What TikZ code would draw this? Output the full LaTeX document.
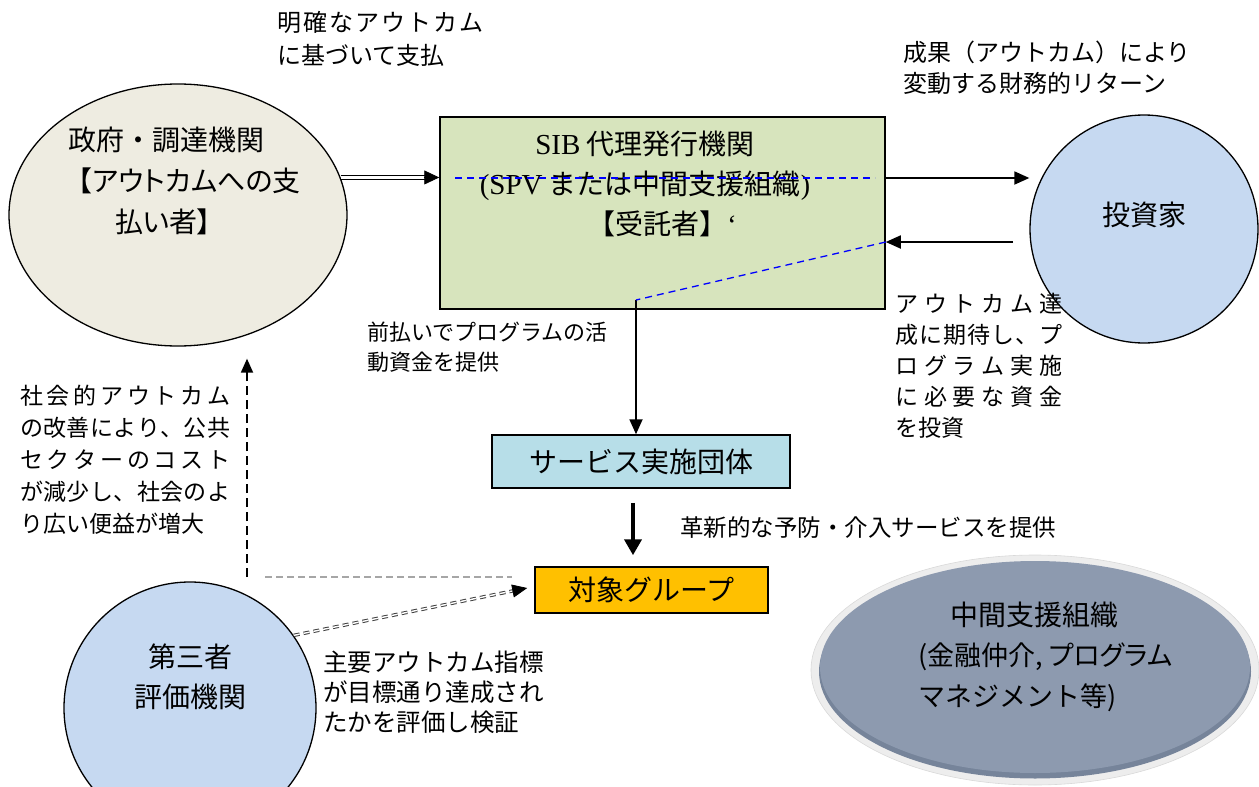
\documentclass[tikz,border=0pt]{standalone}
\usepackage{fontspec}
\setmainfont{Noto Sans CJK JP}
\newfontfamily\lat{Liberation Serif}
\usetikzlibrary{shapes.geometric,arrows.meta,calc}
\definecolor{govfill}{HTML}{EEECE1}
\definecolor{sibfill}{HTML}{D7E4BD}
\definecolor{invfill}{HTML}{C6D9F1}
\definecolor{svcfill}{HTML}{B7DEE8}
\definecolor{tgtfill}{HTML}{FFC000}
\definecolor{midfill}{HTML}{8D9AAF}
\definecolor{midshade}{HTML}{76849A}
\definecolor{ringfill}{HTML}{EDEDED}
\newcommand{\jus}[2]{\makebox[#1][s]{#2}}
\newcommand{\mypalt}{\addfontfeatures{RawFeature=+palt}}
\begin{document}
\begin{tikzpicture}[x=1pt,y=-1pt,
  big/.style={font=\fontsize{28}{40}\selectfont},
  lbl/.style={inner sep=0pt, anchor=north west, align=left},
  arr/.style={line width=1.8pt, -{Triangle[length=15pt,width=13pt]}},
  boxed/.style={draw, line width=1.5pt, inner sep=0pt},
  ring/.style={draw, line width=1.3pt, inner sep=0pt}
]
\useasboundingbox (0,0) rectangle (1259,787);

% ---- shapes ----
\node[ellipse, ring, fill=govfill, minimum width=338pt, minimum height=262pt] (gov) at (178,215) {};
\node[boxed, fill=sibfill, minimum width=445pt, minimum height=192pt] (sib) at (662.5,213) {};
\node[circle, ring, fill=invfill, minimum size=228pt] (inv) at (1144,229) {};
\node[boxed, fill=svcfill, minimum width=298pt, minimum height=53pt, big] (svc) at (641,461.5) {サービス実施団体};
\node[boxed, fill=tgtfill, minimum width=233pt, minimum height=46pt, big] (tgt) at (651.5,590) {対象グループ};
\node[circle, ring, fill=invfill, minimum size=252pt] (tp) at (190,708) {};
\node[ellipse, fill=ringfill, draw=gray!30, line width=0.6pt, minimum width=448pt, minimum height=230pt, inner sep=0pt] (midring) at (1035,670) {};
\fill[midshade] (1035,671.5) ellipse [x radius=216pt, y radius=107pt];
\node[ellipse, fill=midfill, minimum width=430pt, minimum height=212pt, inner sep=0pt] (mid) at (1035,667) {};

% ---- node texts ----
\node[lbl, font=\fontsize{28}{41}\selectfont] (govt) at (68,127)
  {政府・調達機関\\{\mypalt\hspace*{10pt}【アウトカムへの支}\\{\mypalt\hspace*{47pt}払い者】}};
\node[inner sep=0pt, align=center, font=\fontsize{28}{40}\selectfont] (sibt) at (645,184)
  {{\lat\fontsize{29}{40}\selectfont SIB} 代理発行機関\\{\lat\fontsize{29}{40}\selectfont (SPV} または中間支援組織{\lat )}\hspace*{28pt}\\\hspace*{34pt}【受託者】{\lat ‘}};
\node[inner sep=0pt, big] (invt) at (1144,215) {投資家};
\node[inner sep=0pt, align=center, big] (tpt) at (190,677) {第三者\\評価機関};
\node[lbl, font=\fontsize{28}{41}\selectfont] (midt) at (918,602)
  {\hspace*{32pt}中間支援組織\\[-1pt]{\fontsize{27}{41}\selectfont\mypalt (金融仲介, プログラム}\\{\fontsize{27}{41}\selectfont マネジメント等)}};

% ---- connector labels ----
\node[lbl, font=\fontsize{24}{33}\selectfont] (l1) at (277,11)
  {\jus{206pt}{明\hfill 確\hfill な\hfill ア\hfill ウ\hfill ト\hfill カ\hfill ム}\\に基づいて支払};
\node[lbl, font=\fontsize{24}{31}\selectfont] (l2) at (903,41)
  {\jus{290pt}{成果（アウトカム）により}\\変動する財務的リターン};
\node[lbl, font=\fontsize{22}{30}\selectfont] (l3) at (367,322)
  {前払いでプログラムの活\\動資金を提供};
\node[lbl, font=\fontsize{23}{31}\selectfont] (l4) at (895,293)
  {\jus{167pt}{ア\hfill ウ\hfill ト\hfill カ\hfill ム\hfill 達}\\
   \jus{167pt}{成\hfill に\hfill 期\hfill 待\hfill し\hfill 、\hfill プ}\\
   \jus{167pt}{ロ\hfill グ\hfill ラ\hfill ム\hfill 実\hfill 施}\\
   \jus{167pt}{に\hfill 必\hfill 要\hfill な\hfill 資\hfill 金}\\
   を投資};
\node[lbl, font=\fontsize{23}{32}\selectfont] (l5) at (20,385)
  {\jus{210pt}{社\hfill 会\hfill 的\hfill ア\hfill ウ\hfill ト\hfill カ\hfill ム}\\
   \jus{210pt}{の\hfill 改\hfill 善\hfill に\hfill よ\hfill り\hfill 、\hfill 公\hfill 共}\\
   \jus{210pt}{セ\hfill ク\hfill タ\hfill ー\hfill の\hfill コ\hfill ス\hfill ト}\\
   \jus{210pt}{が\hfill 減\hfill 少\hfill し\hfill 、\hfill 社\hfill 会\hfill の\hfill よ}\\
   り広い便益が増大};
\node[lbl, font=\fontsize{23.5}{30}\selectfont] (l6) at (680,516.5)
  {革新的な予防・介入サービスを提供};
\node[lbl, font=\fontsize{24.5}{30}\selectfont] (l7) at (323,651)
  {主要アウトカム指標\\が目標通り達成され\\たかを評価し検証};

% ---- connectors ----
\coordinate (g1) at (gov.13);
\coordinate (g2) at (gov.13 -| sib.west);
\draw[line width=0.9pt, double, double distance=2.4pt, shorten >=14pt] (g1) -- (g2);
\draw[line width=0.8pt, -{Triangle[length=15pt,width=14pt]}] ($(g2)+(-15.5,0)$) -- (g2);

\coordinate (s1) at (sib.east |- 0,178);
\draw[arr] (s1) -- (s1 -| inv.west);
\coordinate (r1) at (1013,242);
\draw[arr] (r1) -- (r1 -| sib.east);

\coordinate (c1) at (636,300);
\draw[arr] (c1) -- (c1 |- svc.north);
\draw[line width=4pt, -{Triangle[length=16pt,width=17pt]}, shorten <=14pt, shorten >=11pt]
  (svc.south -| 633,0) -- (tgt.north -| 633,0);

\coordinate (d1) at (247,577);
\draw[line width=1.8pt, dash pattern=on 9pt off 5pt, -{Triangle[length=14pt,width=12pt]}, shorten >=12pt]
  (d1) -- (d1 |- gov.south);
\coordinate (g3) at (265,577);
\coordinate (g4) at (512,577);
\draw[line width=1.6pt, gray!70, dash pattern=on 7pt off 4pt] (g3) -- (g4);

\coordinate (e2) at ($(tgt.west)+(-7,-2)$);
\draw[line width=1pt, draw=black!75, double, double distance=1.4pt, dash pattern=on 6pt off 4pt]
  (tp.35) -- ($(e2)!14pt!(tp.35)$);
\draw[line width=0.8pt, -{Triangle[length=15pt,width=13pt]}] ($(e2)!15.5pt!(tp.35)$) -- (e2);

% blue dashed artefact lines
\draw[blue, line width=1.3pt, dash pattern=on 7pt off 5pt] (455,178) -- (875,178);
\draw[blue, line width=1.3pt, dash pattern=on 7pt off 5pt] (r1 -| sib.east) -- (c1);
\end{tikzpicture}
\end{document}
